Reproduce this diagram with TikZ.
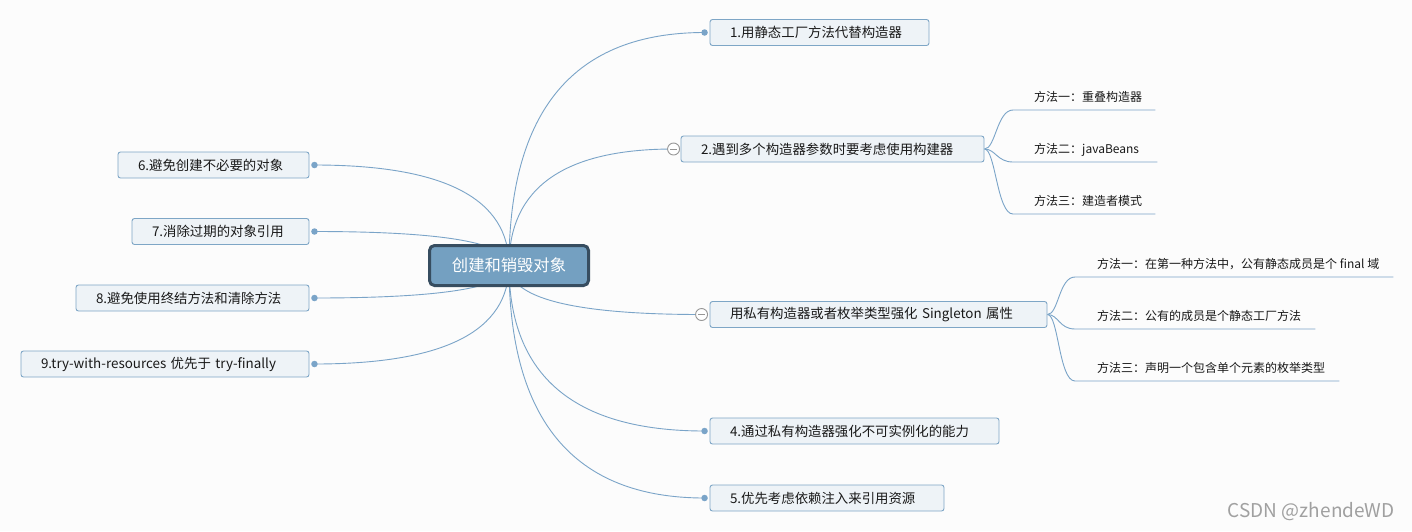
\documentclass[tikz,border=0pt]{standalone}
\usepackage{fontspec}
\setmainfont{Noto Sans CJK SC}
\usetikzlibrary{positioning, calc, backgrounds}

\definecolor{bgc}{HTML}{FCFCFC}
\definecolor{linec}{RGB}{122,164,200}
\definecolor{boxfill}{RGB}{238,243,247}
\definecolor{boxline}{RGB}{126,166,198}
\definecolor{rootfill}{RGB}{116,160,193}
\definecolor{rootline}{RGB}{55,77,96}
\definecolor{textc}{RGB}{25,25,25}
\definecolor{foldc}{RGB}{150,150,150}
\definecolor{wmc}{RGB}{160,160,160}

\begin{document}
\begin{tikzpicture}[x=1pt, y=-1pt]
	\tikzstyle{root}=[
	rectangle, rounded corners=5pt, draw=rootline, fill=rootfill,
	line width=3pt, minimum width=159pt, minimum height=40pt,
	text=white, font=\fontsize{16.3}{19}\selectfont
	]
	\tikzstyle{topic}=[
	rectangle, rounded corners=2.5pt, draw=boxline, fill=boxfill,
	line width=0.9pt, minimum height=26pt, inner xsep=20pt, align=left,
	text=textc, font=\fontsize{13.4}{16}\selectfont
	]
	\tikzstyle{sub}=[inner sep=0pt, anchor=base west, text=textc, font=\fontsize{12}{14}\selectfont]
	\tikzstyle{dot}=[circle, fill=linec, inner sep=0pt, minimum size=6.5pt]
	\tikzstyle{fold}=[circle, draw=foldc, fill=white, line width=0.9pt, inner sep=0pt, minimum size=12pt]
	\tikzstyle{branch}=[draw=linec, line width=0.9pt]
	
	\node[root] (root) at (509,265.5) {创建和销毁对象};
	
	% right side
	\node[topic, text width=179pt] (t1) at (819.5,32.5) {1.用静态工厂方法代替构造器};
	\node[topic, text width=263pt] (t2) at (832.5,149) {2.遇到多个构造器参数时要考虑使用构建器};
	\node[topic, text width=297pt] (t3) at (878.5,314.5) {用私有构造器或者枚举类型强化 Singleton 属性};
	\node[topic, text width=249pt] (t4) at (854.5,431) {4.通过私有构造器强化不可实例化的能力};
	\node[topic, text width=194pt] (t5) at (827,498) {5.优先考虑依赖注入来引用资源};
	
	% left side
	\node[topic, text width=151pt] (t6) at (213.5,165) {6.避免创建不必要的对象};
	\node[topic, text width=137pt] (t7) at (220.5,231.5) {7.消除过期的对象引用};
	\node[topic, text width=193pt] (t8) at (192.5,298) {8.避免使用终结方法和清除方法};
	\node[topic, text width=248pt] (t9) at (165,364) {9.try-with-resources 优先于 try-finally};
	
	\node[dot] (d1) at ([xshift=-5pt]t1.west) {};
	\node[fold] (f2) at ([xshift=-7pt]t2.west) {};
	\node[fold] (f3) at ([xshift=-8pt]t3.west) {};
	\node[dot] (d4) at ([xshift=-5pt]t4.west) {};
	\node[dot] (d5) at ([xshift=-5pt]t5.west) {};
	\node[dot] (d6) at ([xshift=5pt]t6.east) {};
	\node[dot] (d7) at ([xshift=5pt]t7.east) {};
	\node[dot] (d8) at ([xshift=5pt]t8.east) {};
	\node[dot] (d9) at ([xshift=5pt]t9.east) {};
	\draw[foldc, line width=0.9pt] ([xshift=-3.5pt]f2.center) -- ([xshift=3.5pt]f2.center);
	\draw[foldc, line width=0.9pt] ([xshift=-3.5pt]f3.center) -- ([xshift=3.5pt]f3.center);
	
	% sub topics
	\node[sub] (s21) at (1034,101) {方法一：重叠构造器};
	\node[sub] (s22) at (1034,153) {方法二：javaBeans};
	\node[sub] (s23) at (1034,205) {方法三：建造者模式};
	\node[sub] (s31) at (1097,268) {方法一：在第一种方法中，公有静态成员是个 final 域};
	\node[sub] (s32) at (1097,320) {方法二：公有的成员是个静态工厂方法};
	\node[sub] (s33) at (1097,372) {方法三：声明一个包含单个元素的枚举类型};
	
	\node[anchor=east, text=wmc, font=\fontsize{19}{22}\selectfont] (wm) at (1398,512) {CSDN @zhendeWD};
	
	\begin{scope}[on background layer]
		\fill[bgc] (0,0) rectangle (1412,531);
		\foreach \p in {d1,f2,f3,d4,d5,d6,d7,d8,d9} {
			\coordinate (k) at (root.center |- \p);
			\draw[branch] (root.center) .. controls ($(root.center)!0.667!(k)$) and ($(\p)!0.667!(k)$) .. (\p.center);
		}
		\foreach \s/\e in {s21/13, s22/18, s23/13} {
			\draw[branch] (t2.east) .. controls +(11,0) and +(-16,0) .. ($(\s.base west)+(-21,9)$) -- ($(\s.base east)+(\e,9)$);
		}
		\foreach \s in {s31, s32, s33} {
			\draw[branch] (t3.east) .. controls +(11,0) and +(-16,0) .. ($(\s.base west)+(-22,9)$) -- ($(\s.base east)+(14,9)$);
		}
	\end{scope}
\end{tikzpicture}
\end{document}
